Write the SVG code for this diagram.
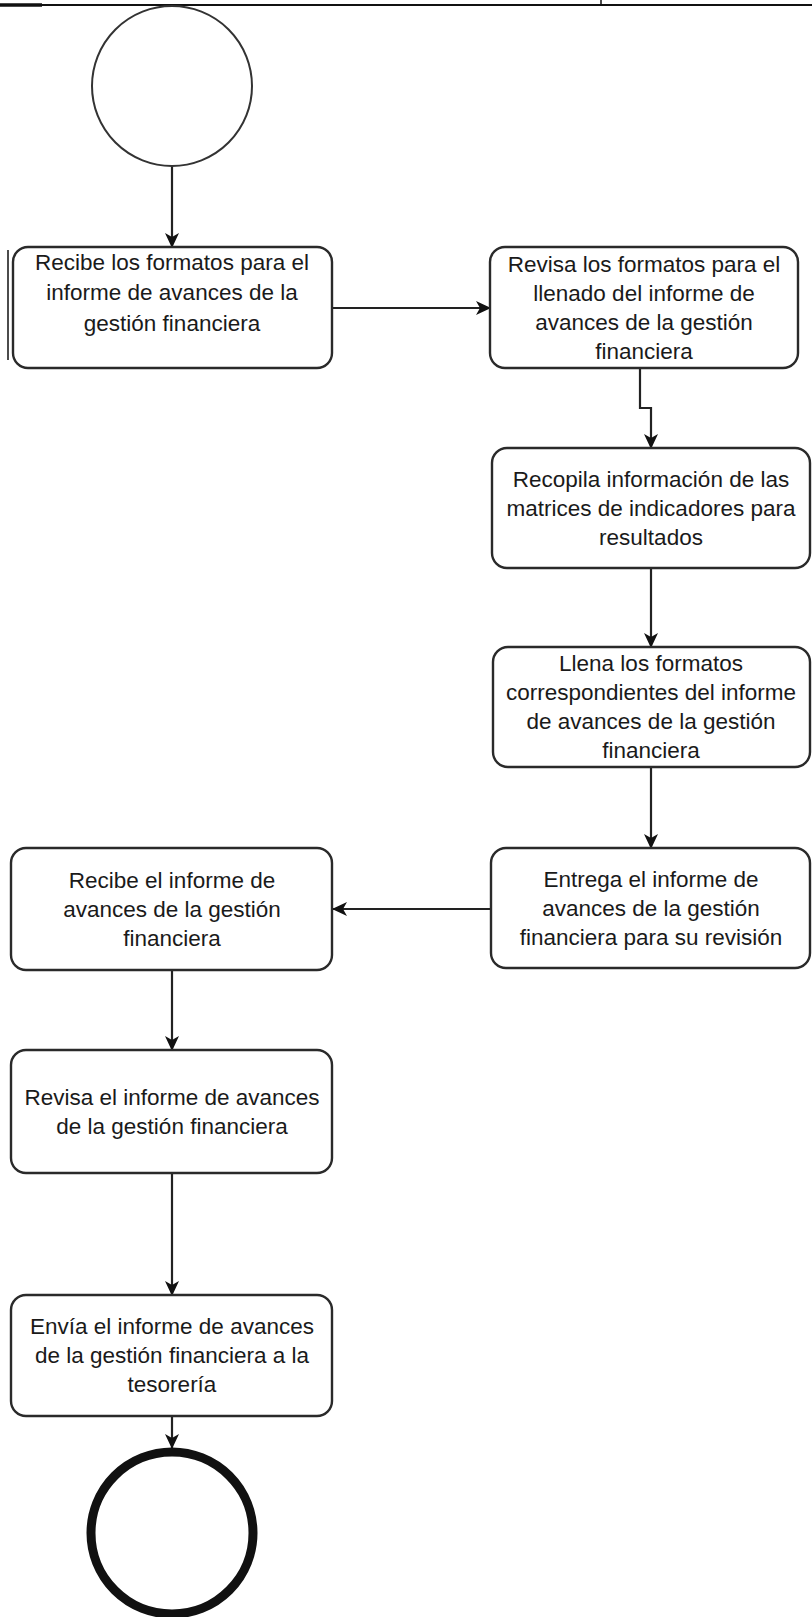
<svg xmlns="http://www.w3.org/2000/svg" width="812" height="1617" viewBox="0 0 812 1617">
<style>
.box{fill:#fff;stroke:#2a2a2a;stroke-width:2.4}
.t{font-family:"Liberation Sans",Arial,sans-serif;font-size:22.5px;fill:#1a1a1a;text-anchor:middle}
.c{fill:none;stroke:#222;stroke-width:2.2}
.frame{stroke:#111;fill:none}
</style>
<defs>
<marker id="ah" viewBox="0 0 15 14" refX="14" refY="7" markerWidth="15" markerHeight="14" markerUnits="userSpaceOnUse" orient="auto">
<path d="M0,0 L15,7 L0,14 L4,7 Z" fill="#111"/>
</marker>
</defs>
<rect width="812" height="1617" fill="#fff"/>
<g id="frame">
<line class="frame" x1="0" y1="5" x2="812" y2="5" stroke-width="2"/>
<line class="frame" x1="0" y1="5" x2="42" y2="5" stroke-width="3.5"/>
<line class="frame" x1="601" y1="0" x2="601" y2="6" stroke-width="1.5"/>
<line class="frame" x1="8" y1="250" x2="8" y2="360" stroke-width="1.5"/>
</g>
<g id="connectors">
<line class="c" x1="172" y1="166" x2="172" y2="247" marker-end="url(#ah)"/>
<line class="c" x1="332" y1="308" x2="490" y2="308" marker-end="url(#ah)"/>
<polyline class="c" points="640,368 640,408 651,408 651,448" marker-end="url(#ah)"/>
<line class="c" x1="651" y1="568" x2="651" y2="647" marker-end="url(#ah)"/>
<line class="c" x1="651" y1="767" x2="651" y2="848" marker-end="url(#ah)"/>
<line class="c" x1="491" y1="909" x2="333" y2="909" marker-end="url(#ah)"/>
<line class="c" x1="172" y1="970" x2="172" y2="1050" marker-end="url(#ah)"/>
<line class="c" x1="172" y1="1173" x2="172" y2="1295" marker-end="url(#ah)"/>
<line class="c" x1="172" y1="1416" x2="172" y2="1448" marker-end="url(#ah)"/>
</g>
<g id="start">
<circle cx="172" cy="86" r="80" fill="#fff" stroke="#333" stroke-width="2"/>
</g>
<g id="n1">
<rect class="box" x="13" y="247" width="319" height="121" rx="15"/>
<text class="t" x="172" y="270">Recibe los formatos para el</text>
<text class="t" x="172" y="300">informe de avances de la</text>
<text class="t" x="172" y="331">gestión financiera</text>
</g>
<g id="n2">
<rect class="box" x="490" y="247" width="308" height="121" rx="15"/>
<text class="t" x="644" y="272">Revisa los formatos para el</text>
<text class="t" x="644" y="301">llenado del informe de</text>
<text class="t" x="644" y="330">avances de la gestión</text>
<text class="t" x="644" y="359">financiera</text>
</g>
<g id="n3">
<rect class="box" x="492" y="448" width="318" height="120" rx="15"/>
<text class="t" x="651" y="487">Recopila información de las</text>
<text class="t" x="651" y="516">matrices de indicadores para</text>
<text class="t" x="651" y="545">resultados</text>
</g>
<g id="n4">
<rect class="box" x="493" y="647" width="317" height="120" rx="15"/>
<text class="t" x="651" y="671">Llena los formatos</text>
<text class="t" x="651" y="700">correspondientes del informe</text>
<text class="t" x="651" y="729">de avances de la gestión</text>
<text class="t" x="651" y="758">financiera</text>
</g>
<g id="n5">
<rect class="box" x="491" y="848" width="319" height="120" rx="15"/>
<text class="t" x="651" y="887">Entrega el informe de</text>
<text class="t" x="651" y="916">avances de la gestión</text>
<text class="t" x="651" y="945">financiera para su revisión</text>
</g>
<g id="n6">
<rect class="box" x="11" y="848" width="321" height="122" rx="15"/>
<text class="t" x="172" y="888">Recibe el informe de</text>
<text class="t" x="172" y="917">avances de la gestión</text>
<text class="t" x="172" y="946">financiera</text>
</g>
<g id="n7">
<rect class="box" x="11" y="1050" width="321" height="123" rx="15"/>
<text class="t" x="172" y="1105">Revisa el informe de avances</text>
<text class="t" x="172" y="1134">de la gestión financiera</text>
</g>
<g id="n8">
<rect class="box" x="11" y="1295" width="321" height="121" rx="15"/>
<text class="t" x="172" y="1334">Envía el informe de avances</text>
<text class="t" x="172" y="1363">de la gestión financiera a la</text>
<text class="t" x="172" y="1392">tesorería</text>
</g>
<g id="end">
<circle cx="172" cy="1533" r="81" fill="#fff" stroke="#111" stroke-width="9"/>
</g>
</svg>
